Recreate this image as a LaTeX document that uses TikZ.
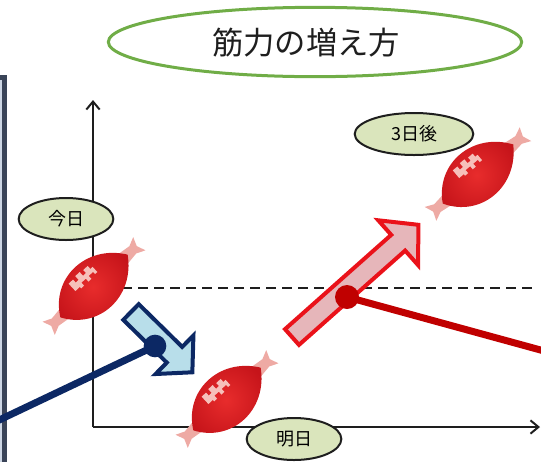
\documentclass[tikz,border=0pt]{standalone}
\usepackage{fontspec}
\newfontfamily\jpfont{Noto Sans CJK JP}
\usetikzlibrary{arrows.meta,shapes.geometric}

\definecolor{titlegreen}{RGB}{112,173,71}
\definecolor{tagfill}{RGB}{218,229,188}
\definecolor{inkgray}{RGB}{30,30,30}
\definecolor{bellyred}{RGB}{232,44,44}
\definecolor{bellydark}{RGB}{198,20,26}
\definecolor{tendonpink}{RGB}{238,170,164}
\definecolor{stripepink}{RGB}{246,192,186}
\definecolor{navy}{RGB}{12,40,100}
\definecolor{dropblue}{RGB}{184,222,234}
\definecolor{gainred}{RGB}{234,18,26}
\definecolor{gainpink}{RGB}{230,182,186}
\definecolor{pointred}{RGB}{192,0,0}
\definecolor{slate}{RGB}{58,68,88}
\definecolor{slatefill}{RGB}{205,214,228}

\tikzset{every picture/.style={line width=0.75pt}}
\tikzset{
  daytag/.style={ellipse, draw=inkgray, line width=1.5pt, fill=tagfill, inner sep=0pt,
    minimum width=71pt, minimum height=31.5pt, font=\jpfont\fontsize{13.5}{15}\selectfont},
  axisline/.style={draw=inkgray, line width=1.5pt, -{Straight Barb[length=6pt,width=10pt]}},
  levelline/.style={draw=inkgray, line width=1.9pt, dash pattern=on 7.5pt off 4.5pt},
  pointer/.style={line width=5.25pt},
  pointerdot/.style={circle, inner sep=0pt, minimum size=17pt},
  muscle/.pic={
    % tendons
    \fill[tendonpink] (-34,-7.5) -- (-53,-5) -- (-62,-9) -- (-58.5,0) -- (-62,9) -- (-53,5) -- (-34,7.5) -- cycle;
    \fill[tendonpink] (34,-7.5) -- (53,-5) -- (62,-9) -- (58.5,0) -- (62,9) -- (53,5) -- (34,7.5) -- cycle;
    % belly
    \shade[inner color=bellyred, outer color=bellydark] (-46,0) .. controls (-26,-35) and (22,-36) .. (46,0) .. controls (22,36) and (-26,35) .. (-46,0) -- cycle;
    % striation
    \fill[stripepink] (-17,9) -- (-17,19) -- (-11,19) -- (-11,15) -- (-7,15) -- (-7,20) -- (-1,20) -- (-1,15) -- (3,15)
      -- (3,19) -- (9,19) -- (9,15) -- (12,15) -- (12,8) -- (9,8) -- (9,11) -- (3,11) -- (3,7) -- (-1,7)
      -- (-1,11) -- (-7,11) -- (-7,7) -- (-11,7) -- (-11,9) -- cycle;
  }
}

\begin{document}
\begin{tikzpicture}[x=0.75pt,y=0.75pt,yscale=-1,xscale=1]
\useasboundingbox (0,0) rectangle (541,461);

%Shape: Frame edge
\draw[slate, line width=3.75pt, fill=slatefill] (-40,77.5) rectangle (4.5,520);

% axes
\coordinate (origin) at (93,427);
\coordinate (ytop) at (93,100);
\coordinate (xend) at (540,427);
\draw[axisline] (origin) -- (ytop);
\draw[axisline] (origin) -- (xend);

% level of today
\coordinate (levelstart) at (122,288);
\coordinate (levelend) at (533,288);
\draw[levelline] (levelstart) -- (levelend);

% Text Node
\node[daytag] (today) at (66,219) {今日};
% Text Node
\node[daytag] (tomorrow) at (294,439) {明日};
% Text Node
\node[daytag, minimum width=89pt] (later) at (414,134) {3日後};

% muscles
\pic[rotate=43] (musclenow) at (94,286) {muscle};
\pic[rotate=43] (muscledown) at (227,399) {muscle};
\pic[rotate=40] (muscleup) at (478,174) {muscle};

%Shape: Arrow down
\begin{scope}[shift={(131,312)}, rotate=44.5]
\draw[navy, line width=3pt, fill=dropblue, line join=miter]
  (0,-11) -- (61,-11) -- (61,-27) -- (86,0) -- (61,27) -- (61,11) -- (0,11) -- cycle;
\end{scope}

%Shape: Arrow up
\begin{scope}[shift={(292,337)}, rotate=-41.6]
\draw[gainred, line width=3pt, fill=gainpink, line join=miter]
  (0,-10.5) -- (142,-10.5) -- (142,-30) -- (169,0) -- (142,30) -- (142,10.5) -- (0,10.5) -- cycle;
\end{scope}

% pointers
\node[pointerdot, fill=navy] (dropdot) at (155,346) {};
\coordinate (dropend) at (-4,421.5);
\draw[navy, pointer] (dropdot.center) -- (dropend);

\node[pointerdot, fill=pointred, minimum size=18pt] (gaindot) at (347,297) {};
\coordinate (gainend) at (546,351.5);
\draw[pointred, pointer] (gaindot.center) -- (gainend);

% Text Node
\node[ellipse, draw=titlegreen, line width=2.25pt, minimum width=310pt, minimum height=52pt] (title) at (315,42) {};
\node[font=\jpfont\fontsize{23.5}{28}\selectfont, text=inkgray] (titletext) at (306,43) {筋力の増え方};

\end{tikzpicture}
\end{document}
